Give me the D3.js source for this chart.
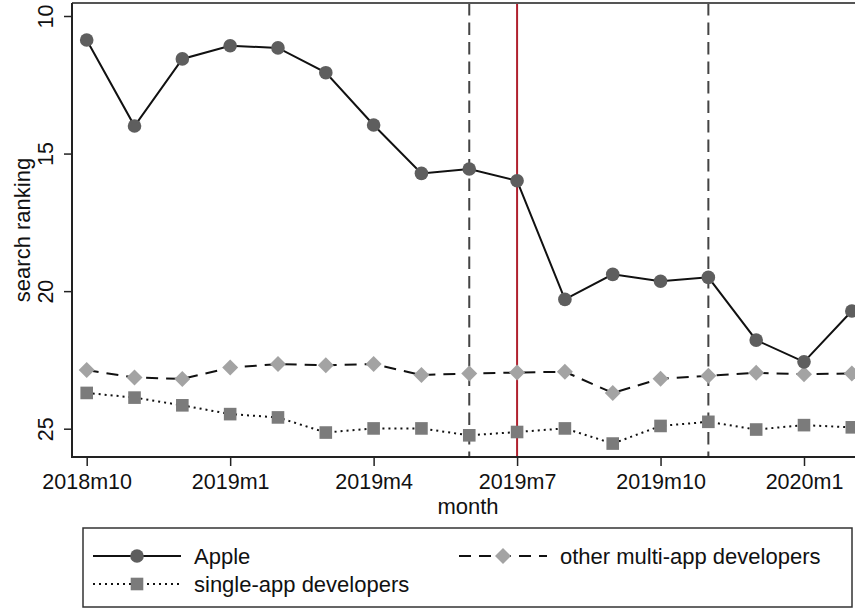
<!DOCTYPE html>
<html>
<head>
<meta charset="utf-8">
<script src="https://cdn.jsdelivr.net/npm/d3@7"></script>
<style>
  body { margin: 0; background: #fff; }
  svg text { font-family: "Liberation Sans", Arial, Helvetica, sans-serif; fill: #111; }
</style>
</head>
<body>
<svg id="chart" width="855" height="610"></svg>
<script>
var months = ["2018m10", "2018m11", "2018m12", "2019m1", "2019m2", "2019m3", "2019m4",
              "2019m5", "2019m6", "2019m7", "2019m8", "2019m9", "2019m10", "2019m11",
              "2019m12", "2020m1", "2020m2"];
var apple  = [10.87, 14.0, 11.56, 11.08, 11.16, 12.06, 13.96, 15.72, 15.56, 15.99,
              20.3, 19.39, 19.64, 19.5, 21.78, 22.57, 20.72];
var multi  = [22.87, 23.14, 23.19, 22.78, 22.65, 22.69, 22.65, 23.05, 22.99, 22.96,
              22.93, 23.70, 23.18, 23.08, 22.97, 23.02, 22.99];
var single = [23.70, 23.87, 24.15, 24.47, 24.59, 25.14, 24.99, 24.99, 25.24, 25.12,
              24.99, 25.54, 24.90, 24.75, 25.03, 24.87, 24.95];
var x_ticks = ["2018m10", "2019m1", "2019m4", "2019m7", "2019m10", "2020m1"];
var y_ticks = [10, 15, 20, 25];
var dashed_months = ["2019m6", "2019m11"];
var red_month = "2019m7";
var legend_labels = ["Apple", "other multi-app developers", "single-app developers"];

var svg = d3.select("#chart");
var plot_left = 72, plot_right = 866, plot_top = 3, plot_bottom = 457;

var x = d3.scaleLinear().domain([0, 15]).range([86.7, 804]);
var y = d3.scaleLinear().domain([10, 25]).range([16, 428.7]);
function xm(m) { return x(months.indexOf(m)); }

// reference lines go under the series
dashed_months.forEach(function(m) {
  svg.append("line")
    .attr("x1", xm(m)).attr("x2", xm(m))
    .attr("y1", plot_top).attr("y2", plot_bottom)
    .style("stroke", "#444").style("stroke-width", 2)
    .style("stroke-dasharray", "12.5,7");
});
svg.append("line")
  .attr("x1", xm(red_month)).attr("x2", xm(red_month))
  .attr("y1", plot_top).attr("y2", plot_bottom)
  .style("stroke", "#b0202e").style("stroke-width", 2);

// frame + axes
svg.append("line").attr("x1", plot_left).attr("x2", plot_right)
  .attr("y1", plot_top).attr("y2", plot_top)
  .style("stroke", "#555").style("stroke-width", 2);

var y_axis = svg.append("g")
  .attr("transform", "translate(" + plot_left + ",0)")
  .call(d3.axisLeft(y).tickValues(y_ticks).tickSize(8).tickSizeOuter(0));
y_axis.select(".domain").remove();
y_axis.selectAll(".tick line").style("stroke", "#222").style("stroke-width", 1.5);
y_axis.selectAll(".tick text")
  .attr("transform", "rotate(-90)")
  .attr("x", 0).attr("y", -19).attr("dy", 0)
  .attr("text-anchor", "middle")
  .style("font-size", "21.5px");

var x_axis = svg.append("g")
  .attr("transform", "translate(0," + plot_bottom + ")")
  .call(d3.axisBottom(x)
    .tickValues(x_ticks.map(function(m) { return months.indexOf(m); }))
    .tickFormat(function(i) { return months[i]; })
    .tickSize(9).tickSizeOuter(0));
x_axis.select(".domain").remove();
x_axis.selectAll(".tick line").style("stroke", "#222").style("stroke-width", 1.5);
x_axis.selectAll(".tick text")
  .attr("y", 32).attr("dy", 0)
  .style("font-size", "21.5px");

svg.append("line").attr("x1", plot_left).attr("x2", plot_left)
  .attr("y1", plot_top).attr("y2", plot_bottom)
  .style("stroke", "#222").style("stroke-width", 2);
svg.append("line").attr("x1", plot_left - 1).attr("x2", plot_right)
  .attr("y1", plot_bottom).attr("y2", plot_bottom)
  .style("stroke", "#222").style("stroke-width", 2);

svg.append("text").attr("x", 468).attr("y", 514)
  .attr("text-anchor", "middle").style("font-size", "22px").text("month");
svg.append("text")
  .attr("transform", "translate(30," + ((plot_top + plot_bottom) / 2) + ") rotate(-90)")
  .attr("text-anchor", "middle").style("font-size", "22px").text("search ranking");

// series
var series = [
  {values: multi,  dash: "12,8", marker: "diamond", fill: "#a3a3a3"},
  {values: single, dash: "2,4",  marker: "square",  fill: "#7b7b7b"},
  {values: apple,  dash: null,   marker: "circle",  fill: "#5e5e5e"}
];

var line = d3.line()
  .x(function(d, i) { return x(i); })
  .y(function(d) { return y(d); });

function draw_marker(g, kind, cx, cy, fill) {
  if (kind === "circle") {
    g.append("circle").attr("cx", cx).attr("cy", cy).attr("r", 6.8).style("fill", fill);
  } else if (kind === "square") {
    g.append("rect").attr("x", cx - 6.3).attr("y", cy - 6.3)
      .attr("width", 12.6).attr("height", 12.6).style("fill", fill);
  } else {
    var s = 8;
    g.append("path")
      .attr("d", "M" + cx + "," + (cy - s) + "L" + (cx + s) + "," + cy +
                 "L" + cx + "," + (cy + s) + "L" + (cx - s) + "," + cy + "Z")
      .style("fill", fill);
  }
}

series.forEach(function(s) {
  var p = svg.append("path")
    .datum(s.values)
    .attr("d", line)
    .style("fill", "none")
    .style("stroke", "#111")
    .style("stroke-width", 2);
  if (s.dash) p.style("stroke-dasharray", s.dash);
  var g = svg.append("g");
  s.values.forEach(function(v, i) {
    draw_marker(g, s.marker, x(i), y(v), s.fill);
  });
});

// legend
svg.append("rect").attr("x", 83).attr("y", 528).attr("width", 769).attr("height", 79)
  .style("fill", "#fff").style("stroke", "#333").style("stroke-width", 1.5);

var legend_items = [
  {label: legend_labels[0], lx: 93,  ly: 556, dash: null,   marker: "circle",  fill: "#5e5e5e"},
  {label: legend_labels[1], lx: 459, ly: 556, dash: "12,8", marker: "diamond", fill: "#a3a3a3"},
  {label: legend_labels[2], lx: 93,  ly: 584, dash: "2,4",  marker: "square",  fill: "#7b7b7b"}
];

legend_items.forEach(function(d) {
  var l = svg.append("line")
    .attr("x1", d.lx).attr("x2", d.lx + 88)
    .attr("y1", d.ly).attr("y2", d.ly)
    .style("stroke", "#111").style("stroke-width", 2);
  if (d.dash) l.style("stroke-dasharray", d.dash);
  draw_marker(svg.append("g"), d.marker, d.lx + 44, d.ly, d.fill);
  svg.append("text")
    .attr("x", d.lx + 101).attr("y", d.ly + 7.5)
    .style("font-size", "22px")
    .text(d.label);
});
</script>
</body>
</html>
